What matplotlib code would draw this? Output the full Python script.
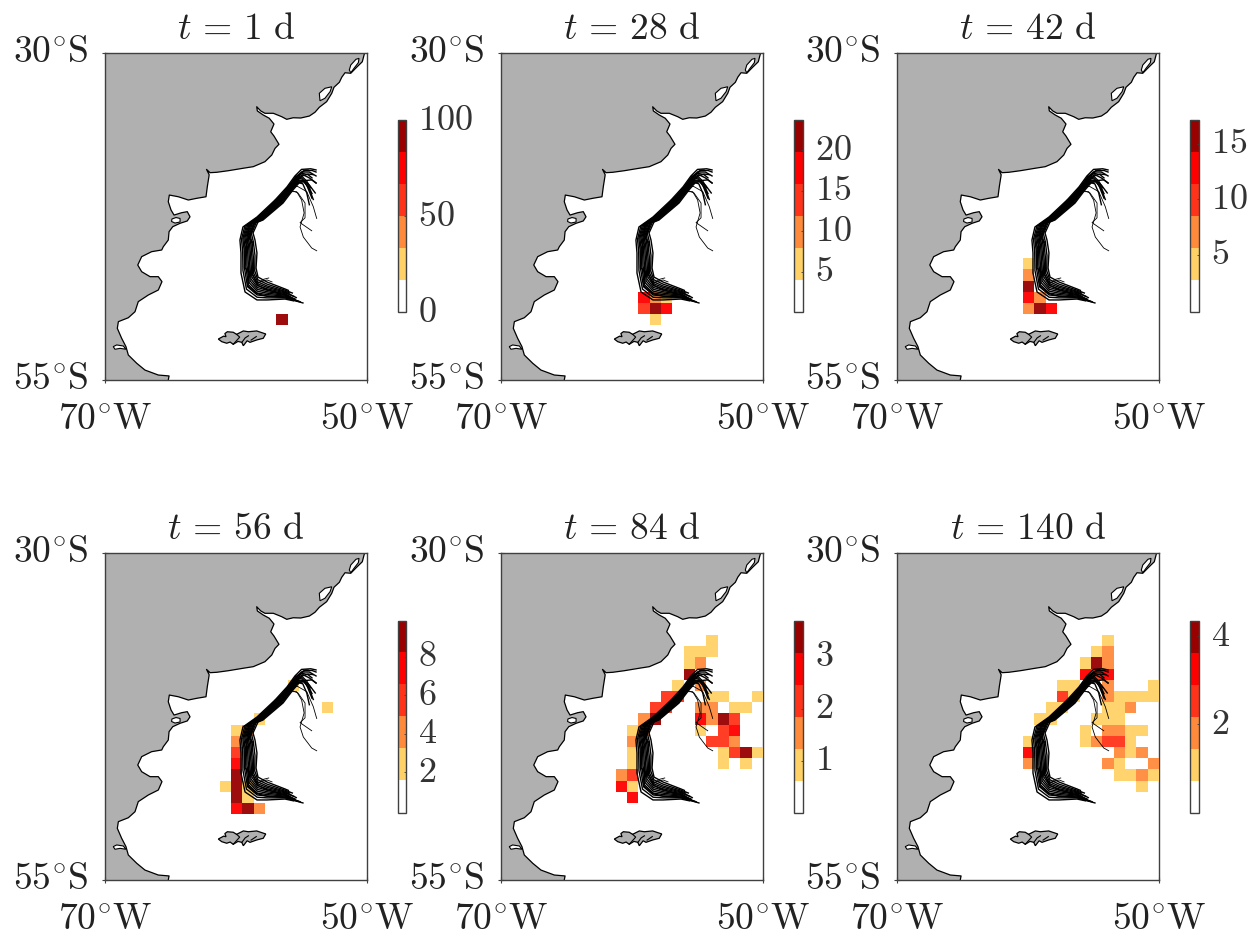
import numpy as np
import matplotlib
matplotlib.use("Agg")
import matplotlib.pyplot as plt
from matplotlib.colors import ListedColormap, BoundaryNorm
from matplotlib.cm import ScalarMappable
from matplotlib.transforms import ScaledTranslation

plt.rcParams["mathtext.fontset"] = "cm"

# coastline of South America, north to south (lon, lat in degrees)
coast_lon = [-50.21, -50.36, -50.79, -51.24, -51.68, -51.93, -52.11, -52.52, -52.69, -53.08,
             -53.64, -53.97, -54.40, -55.06, -55.63, -56.13, -56.51, -57.15, -57.79, -58.11,
             -58.42, -58.37, -57.92, -57.46, -57.10, -57.35, -57.10, -56.72, -57.02, -57.27,
             -57.79, -58.68, -59.44, -60.59, -61.47, -61.98, -62.25, -62.05, -62.06, -62.19,
             -62.29, -63.00, -63.64, -64.40, -65.09, -65.17, -64.96, -64.73, -64.15, -63.72,
             -63.51, -63.72, -64.27, -64.83, -65.11, -65.17, -65.55, -65.67, -66.44, -67.20,
             -67.50, -67.20, -66.56, -65.93, -65.65, -65.93, -66.69, -67.46, -67.71, -68.22,
             -68.98, -69.06, -68.73, -68.40, -68.22, -67.58, -66.95, -65.93, -65.11, -65.17]
coast_lat = [-30.10, -30.67, -31.09, -31.55, -31.51, -31.86, -32.24, -32.62, -33.08, -33.72,
             -34.15, -34.53, -34.82, -34.97, -34.95, -35.07, -34.87, -34.61, -34.61, -34.43,
             -34.11, -34.43, -34.74, -34.99, -35.43, -36.02, -36.35, -36.98, -37.29, -37.80,
             -38.31, -38.69, -38.81, -39.00, -39.12, -39.15, -38.90, -39.30, -39.40, -40.22,
             -40.99, -41.11, -41.24, -40.99, -40.86, -41.37, -42.00, -42.39, -42.21, -42.13,
             -42.52, -42.84, -43.02, -43.28, -43.66, -44.30, -44.81, -45.06, -45.19, -45.57,
             -46.21, -46.72, -47.10, -47.10, -47.48, -48.12, -48.50, -49.01, -49.78, -50.24,
             -50.54, -51.05, -51.81, -52.45, -53.09, -53.72, -54.24, -54.62, -54.69, -55.00]

# lagoons and straits cut out of the land
patos_lon = [-51.24, -50.84, -50.61, -50.66, -50.99, -51.24, -51.35]
patos_lat = [-30.92, -30.48, -30.41, -30.74, -31.17, -31.51, -31.30]
mirim_lon = [-53.64, -53.21, -52.69, -52.82, -53.21, -53.59]
mirim_lat = [-33.08, -32.70, -32.58, -32.96, -33.46, -33.65]
valdes_lon = [-64.89, -64.58, -64.27, -64.27, -64.66, -64.92]
valdes_lat = [-42.69, -42.58, -42.65, -42.92, -43.00, -42.88]
magellan_lon = [-69.37, -69.11, -68.60, -68.40, -68.85, -69.24]
magellan_lat = [-52.45, -52.32, -52.40, -52.65, -52.58, -52.65]

falkland_lon = [-61.35, -60.95, -60.76, -60.85, -60.66, -60.21, -59.95, -59.70, -59.44, -59.06, -58.42, -57.73,
                -57.92, -58.42, -58.93, -59.15, -59.44, -59.56, -59.85, -60.21, -60.45, -60.71, -61.09]
falkland_lat = [-51.87, -51.65, -51.69, -51.45, -51.31, -51.35, -51.51, -51.38, -51.25, -51.31, -51.25, -51.48,
                -51.81, -51.94, -52.12, -52.00, -52.38, -52.12, -52.05, -52.27, -52.10, -52.19, -52.07]
# Falkland Sound and the inlets of the eastern island
sound_lon = [[-60.21, -59.95, -59.72, -59.95], [-59.55, -59.30, -59.05], [-58.85, -58.45]]
sound_lat = [[-52.27, -51.98, -51.72, -51.51], [-52.12, -51.78, -51.62], [-51.95, -51.68]]

# drifter tracks; the first 14 form the main bundle
track_lon = [
    [-55.6, -56.26, -57.63, -58.40, -59.31, -59.62, -59.62, -59.70, -59.47, -58.40, -57.02, -56.11, -55.5, -55.0, -54.3, -53.89],
    [-54.89, -56.26, -57.63, -58.39, -59.2, -59.47, -59.49, -59.58, -59.33, -58.35, -56.95, -56.05, -55.45, -54.8, -54.2, -53.89],
    [-55.1, -56.26, -57.63, -58.38, -59.12, -59.35, -59.38, -59.48, -59.22, -58.3, -56.88, -56.0, -55.42, -54.9, -54.4, -53.89],
    [-55.3, -56.26, -57.63, -58.38, -59.05, -59.25, -59.3, -59.4, -59.12, -58.26, -56.84, -55.98, -55.4, -54.95, -54.5, -54.2],
    [-55.5, -56.26, -57.63, -58.37, -58.99, -59.16, -59.2, -59.32, -59.03, -58.22, -56.79, -55.94, -55.38, -54.9, -54.4, -53.89],
    [-55.75, -56.26, -57.63, -58.36, -58.92, -59.06, -59.13, -59.24, -58.94, -58.19, -56.74, -55.9, -55.36, -54.95, -54.6, -54.3],
    [-55.9, -56.26, -57.63, -58.36, -58.86, -58.96, -59.04, -59.16, -58.85, -58.15, -56.69, -55.86, -55.34, -55.0, -54.55, -54.2],
    [-55.6, -56.26, -57.63, -58.35, -58.79, -58.86, -58.96, -59.08, -58.76, -58.11, -56.64, -55.82, -55.32, -54.95, -54.6, -54.2],
    [-55.4, -56.26, -57.63, -58.34, -58.72, -58.77, -58.87, -59.0, -58.66, -58.08, -56.6, -55.79, -55.3, -54.85, -54.4, -53.95],
    [-55.9, -56.26, -57.63, -58.34, -58.65, -58.67, -58.79, -58.92, -58.57, -58.04, -56.55, -55.75, -55.27, -54.8, -54.4, -54.1],
    [-55.7, -56.26, -57.63, -58.33, -58.57, -58.55, -58.68, -58.82, -58.46, -57.99, -56.48, -55.71, -55.25, -54.9, -54.6, -54.4],
    [-56.0, -56.26, -57.63, -58.32, -58.47, -58.40, -58.55, -58.70, -58.32, -57.94, -56.41, -55.65, -55.2, -54.7, -54.2, -53.89],
    [-55.2, -56.26, -57.63, -58.39, -59.1, -59.0, -58.7, -59.1, -59.0, -58.2, -56.9, -55.95, -55.4, -55.0, -54.7, -54.5],
    [-55.5, -56.26, -57.63, -58.36, -58.7, -59.35, -59.3, -58.9, -58.6, -58.1, -56.6, -55.8, -55.3, -54.95, -54.5, -54.1],
    [-57.02, -56.03, -55.37, -54.99, -54.8, -55.11, -54.86, -54.22, -53.84],
    [-56.9, -55.9, -55.27, -54.73, -54.73, -55.11, -54.22],
    [-55.9, -55.3, -54.6, -54.1, -53.84],
    [-58.4, -57.63, -57.25],
    [-58.3, -57.9, -57.5],
]
track_lat = [
    [-48.95, -48.81, -48.88, -48.88, -48.27, -46.82, -45.29, -44.30, -43.30, -42.54, -41.24, -40.24, -39.4, -38.9, -38.85, -38.94],
    [-49.11, -48.72, -48.72, -48.67, -48.05, -46.63, -45.17, -44.24, -43.25, -42.57, -41.27, -40.27, -39.46, -39.0, -38.98, -39.1],
    [-49.02, -48.64, -48.58, -48.5, -47.87, -46.48, -45.07, -44.18, -43.22, -42.6, -41.29, -40.29, -39.5, -39.1, -39.1, -39.4],
    [-48.95, -48.58, -48.47, -48.35, -47.72, -46.36, -45.0, -44.14, -43.18, -42.61, -41.31, -40.3, -39.55, -39.2, -39.3, -39.55],
    [-48.85, -48.52, -48.36, -48.21, -47.57, -46.24, -44.9, -44.1, -43.15, -42.62, -41.33, -40.33, -39.6, -39.3, -39.55, -39.94],
    [-48.7, -48.46, -48.25, -48.07, -47.43, -46.12, -44.83, -44.05, -43.12, -42.64, -41.34, -40.34, -39.65, -39.45, -39.8, -40.3],
    [-48.6, -48.39, -48.14, -47.93, -47.28, -45.99, -44.75, -44.01, -43.09, -42.66, -41.36, -40.36, -39.7, -39.55, -40.0, -40.75],
    [-48.6, -48.33, -48.03, -47.79, -47.13, -45.87, -44.68, -43.97, -43.06, -42.68, -41.38, -40.38, -39.75, -39.7, -40.1, -41.1],
    [-48.7, -48.27, -47.92, -47.65, -46.99, -45.75, -44.61, -43.92, -43.03, -42.7, -41.4, -40.39, -39.8, -39.75, -40.1, -40.7],
    [-48.35, -48.21, -47.81, -47.5, -46.84, -45.63, -44.53, -43.88, -43.0, -42.72, -41.42, -40.42, -39.85, -39.85, -40.4, -41.2],
    [-48.35, -48.13, -47.67, -47.34, -46.66, -45.48, -44.42, -43.82, -42.97, -42.74, -41.45, -40.44, -39.9, -40.0, -40.7, -41.6],
    [-48.15, -48.04, -47.51, -47.13, -46.44, -45.29, -44.30, -43.76, -42.92, -42.77, -41.47, -40.47, -39.95, -39.75, -39.7, -39.94],
    [-49.0, -48.7, -48.6, -48.4, -47.8, -46.1, -44.5, -44.0, -43.2, -42.6, -41.3, -40.3, -39.5, -39.1, -38.95, -38.95],
    [-48.8, -48.5, -48.1, -47.75, -47.0, -46.4, -44.95, -43.9, -43.0, -42.7, -41.4, -40.4, -39.7, -39.4, -39.25, -39.3],
    [-41.24, -40.6, -40.6, -41.24, -42.23, -43.3, -44.07, -44.91, -45.12],
    [-41.3, -40.45, -40.7, -41.47, -42.6, -42.97, -43.59],
    [-40.3, -40.2, -40.6, -41.75, -42.65],
    [-47.58, -47.35, -47.5],
    [-47.6, -47.3, -47.2],
]

# binned density: (column, row, value), columns west to east, rows north to south
cells_1 = [(5, 16, 98)]
cells_28 = [(2, 14, 18), (3, 14, 10), (4, 14, 6),
            (2, 15, 14), (3, 15, 22), (4, 15, 18),
            (3, 16, 6)]
cells_42 = [(1, 11, 4), (1, 12, 7), (1, 13, 16),
            (1, 14, 13), (2, 14, 7),
            (1, 15, 7), (2, 15, 16), (3, 15, 13)]
cells_56 = [(6, 4, 2.4), (9, 6, 2.4), (3, 7, 2.4),
            (1, 8, 2.4), (2, 8, 4), (1, 9, 4), (1, 10, 5.7), (1, 11, 7.4),
            (1, 12, 9), (0, 13, 2.4), (1, 13, 9), (2, 13, 2.4),
            (1, 14, 9), (2, 14, 2.4),
            (1, 15, 7.4), (2, 15, 9), (3, 15, 4)]
cells_84 = [(8, 0, 0.8),
            (6, 1, 0.8), (7, 1, 0.8), (8, 1, 0.8),
            (6, 2, 0.8), (7, 2, 1.5),
            (6, 3, 3.4),
            (5, 4, 0.8), (7, 4, 1.5),
            (4, 5, 2.1), (5, 5, 2.1), (8, 5, 0.8), (9, 5, 0.8), (12, 5, 0.8),
            (3, 6, 2.1), (4, 6, 2.1), (7, 6, 1.5), (8, 6, 1.5), (10, 6, 0.8), (11, 6, 0.8),
            (2, 7, 1.5), (3, 7, 3.4), (7, 7, 2.8), (8, 7, 1.5), (9, 7, 3.4), (10, 7, 2.1),
            (1, 8, 0.8), (2, 8, 1.5), (7, 8, 0.8), (9, 8, 2.1), (10, 8, 2.8),
            (1, 9, 1.5), (8, 9, 2.1), (9, 9, 2.1), (10, 9, 1.5),
            (1, 10, 0.8), (9, 10, 0.8), (10, 10, 2.1), (11, 10, 3.4), (12, 10, 0.8),
            (1, 11, 0.8), (9, 11, 0.8), (11, 11, 0.8),
            (0, 12, 1.5), (1, 12, 2.1),
            (0, 13, 2.8), (1, 13, 0.8),
            (1, 14, 2.8)]
cells_140 = [(8, 0, 1.1),
             (7, 1, 1.1), (8, 1, 1.8),
             (6, 2, 1.1), (7, 2, 4.0), (8, 2, 1.8),
             (6, 3, 3.3), (7, 3, 2.5), (8, 3, 3.3),
             (4, 4, 1.1), (5, 4, 1.1), (8, 4, 1.8), (12, 4, 1.1),
             (4, 5, 2.5), (5, 5, 1.1), (8, 5, 1.8), (9, 5, 1.1), (10, 5, 1.1), (11, 5, 1.1), (12, 5, 1.1),
             (3, 6, 1.1), (4, 6, 1.1), (8, 6, 1.1), (9, 6, 1.1), (10, 6, 1.8),
             (2, 7, 1.1), (3, 7, 1.1), (7, 7, 1.1), (8, 7, 1.1), (9, 7, 1.1),
             (6, 8, 1.1), (8, 8, 1.8), (9, 8, 1.8), (10, 8, 1.1), (11, 8, 1.1),
             (1, 9, 1.1), (6, 9, 1.1), (7, 9, 1.8), (8, 9, 2.5), (9, 9, 2.5), (10, 9, 1.1),
             (1, 10, 3.3), (9, 10, 1.8), (10, 10, 1.1), (11, 10, 1.8),
             (1, 11, 1.8), (8, 11, 1.8), (9, 11, 1.1), (12, 11, 1.8),
             (9, 12, 1.1), (10, 12, 1.1), (11, 12, 1.8), (12, 12, 1.1),
             (11, 13, 1.1)]

panel_cells = [cells_1, cells_28, cells_42, cells_56, cells_84, cells_140]
panel_days = [1, 28, 42, 56, 84, 140]
panel_vmin = [0, 0, -0.2, -0.1, 0, 0]
panel_vmax = [100, 23.7, 17.1, 9.9, 3.7, 4.36]
panel_ticks = [[0, 50, 100], [5, 10, 15, 20], [5, 10, 15], [2, 4, 6, 8], [1, 2, 3], [2, 4]]

bin_colors = ["#FFFFFF", "#FFD166", "#FF8A3C", "#FF3319", "#FF0000", "#990000"]

# grid of the density cells
lon_edges = -50 - 0.865 * np.arange(13, -1, -1)
lat_edges = -36.27 - 0.856 * np.arange(0, 18)

# axes layout in pixels
FIG_W, FIG_H = 1255, 938
AX_LEFT = [105, 501, 897]
AX_TOP = [53, 553]
AX_W, AX_H = 262, 327
CB_LEFT = [397.5, 794, 1190]
CB_TOP = [120.5, 620.5]
CB_W, CB_H = 8.5, 192
FRAME = "#404040"
BUNDLE_SIZE = 14


def add_axes_px(left, top, width, height):
    return fig.add_axes([left / FIG_W, 1 - (top + height) / FIG_H, width / FIG_W, height / FIG_H])


def shift_labels(labels, dx_px, dy_px):
    offset = ScaledTranslation(dx_px / 100, dy_px / 100, fig.dpi_scale_trans)
    for label in labels:
        label.set_transform(label.get_transform() + offset)


def draw_map(ax):
    land_lon = coast_lon + [-70, -70, coast_lon[0]]
    land_lat = coast_lat + [-55, -30, -30]
    ax.fill(land_lon, land_lat, color="#B0B0B0", lw=0, zorder=1)
    ax.plot(coast_lon, coast_lat, color="black", lw=0.9, zorder=2)
    for lons, lats in [(patos_lon, patos_lat), (mirim_lon, mirim_lat),
                       (valdes_lon, valdes_lat), (magellan_lon, magellan_lat)]:
        ax.fill(lons, lats, facecolor="white", edgecolor="black", lw=0.8, zorder=2)
    ax.fill(falkland_lon, falkland_lat, facecolor="#B0B0B0", edgecolor="black", lw=0.9, zorder=2)
    for lons, lats in zip(sound_lon, sound_lat):
        ax.plot(lons, lats, color="black", lw=0.8, zorder=2)


def draw_cells(ax, cells, cmap, norm):
    grid = np.full((len(lat_edges) - 1, len(lon_edges) - 1), np.nan)
    for col, row, value in cells:
        grid[row, col] = value
    ax.pcolormesh(lon_edges, lat_edges, np.ma.masked_invalid(grid), cmap=cmap, norm=norm,
                  alpha=0.95, zorder=3)


fig = plt.figure(figsize=(FIG_W / 100, FIG_H / 100), dpi=100)
cmap = ListedColormap(bin_colors)

for i in range(6):
    row_i, col_i = i // 3, i % 3
    ax = add_axes_px(AX_LEFT[col_i], AX_TOP[row_i], AX_W, AX_H)
    norm = BoundaryNorm(np.linspace(panel_vmin[i], panel_vmax[i], 7), cmap.N, clip=True)

    draw_map(ax)
    draw_cells(ax, panel_cells[i], cmap, norm)
    for k, (lons, lats) in enumerate(zip(track_lon, track_lat)):
        ax.plot(lons, lats, color="black", lw=1.0 if k < BUNDLE_SIZE else 0.6, zorder=4)

    ax.set_xlim(-70, -50)
    ax.set_ylim(-55, -30)
    ax.set_xticks([-70, -50], [r"$70^{\circ}\mathrm{W}$", r"$50^{\circ}\mathrm{W}$"])
    ax.set_yticks([-55, -30], [r"$55^{\circ}\mathrm{S}$", r"$30^{\circ}\mathrm{S}$"])
    ax.tick_params(axis="both", direction="inout", length=4, width=0.8, color=FRAME,
                   labelsize=27, labelcolor="#222222", pad=10)
    ax.tick_params(axis="x", pad=13)
    shift_labels(ax.get_yticklabels(), 0, 5)
    for spine in ax.spines.values():
        spine.set_color(FRAME)
        spine.set_linewidth(1.0)
    ax.set_title(rf"$t\,=\,{panel_days[i]}\ \mathrm{{d}}$", fontsize=27, pad=10, color="#222222")

    cax = add_axes_px(CB_LEFT[col_i], CB_TOP[row_i], CB_W, CB_H)
    cb = fig.colorbar(ScalarMappable(norm=norm, cmap=cmap), cax=cax,
                      ticks=panel_ticks[i], spacing="proportional")
    cb.ax.tick_params(which="major", direction="in", length=1.5, width=0.6, color=FRAME,
                      labelsize=26, labelcolor="#333333", pad=9)
    cb.ax.minorticks_off()
    cb.ax.set_yticklabels([rf"${t}$" for t in panel_ticks[i]])
    shift_labels(cb.ax.get_yticklabels(), 0, 4)
    cb.outline.set_edgecolor(FRAME)
    cb.outline.set_linewidth(1.0)

fig.savefig("out.png", dpi=100)
